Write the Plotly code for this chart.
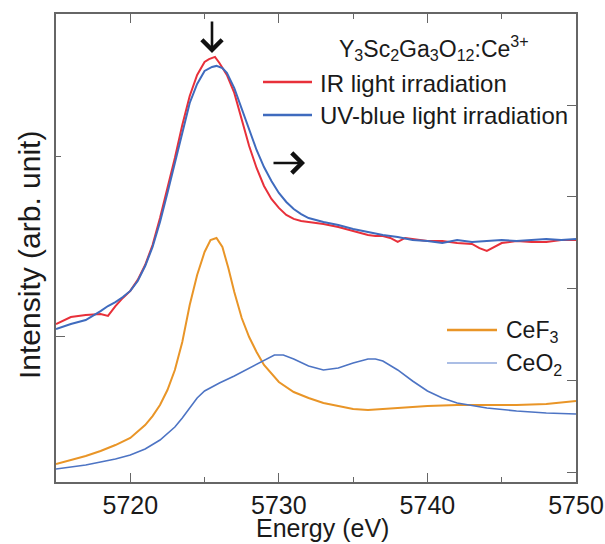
import plotly.graph_objects as go

# ---------------- data ----------------
# Top spectra: Y3Sc2Ga3O12:Ce3+ (left axis, arb. unit)
energy_ir = [5715, 5716, 5717, 5718, 5718.5, 5719, 5719.5, 5720, 5720.5, 5721, 5721.5, 5722,
             5722.5, 5723, 5723.5, 5724, 5724.5, 5725, 5725.3, 5725.7, 5726, 5726.5, 5727,
             5727.5, 5728, 5728.5, 5729, 5729.5, 5730, 5730.5, 5731, 5731.5, 5732, 5733,
             5734, 5735, 5736, 5736.5, 5737, 5737.5, 5738, 5738.5, 5739, 5740, 5741, 5742,
             5743, 5743.5, 5744, 5744.5, 5745, 5746, 5747, 5748, 5749, 5750]
ir_light = [1.072, 1.111, 1.122, 1.128, 1.117, 1.172, 1.217, 1.256, 1.317, 1.400, 1.511, 1.661,
            1.828, 1.994, 2.178, 2.339, 2.456, 2.528, 2.544, 2.556, 2.522, 2.456, 2.356,
            2.206, 2.061, 1.939, 1.839, 1.767, 1.717, 1.678, 1.656, 1.644, 1.639, 1.628,
            1.611, 1.589, 1.567, 1.561, 1.561, 1.550, 1.528, 1.550, 1.544, 1.533, 1.533, 1.522,
            1.517, 1.494, 1.478, 1.500, 1.522, 1.533, 1.528, 1.528, 1.539, 1.539]

energy_uv = [5715, 5716, 5717, 5717.5, 5718, 5718.5, 5719, 5719.5, 5720, 5720.5, 5721, 5721.5,
             5722, 5722.5, 5723, 5723.5, 5724, 5724.5, 5725, 5725.5, 5725.8, 5726.2, 5726.5,
             5727, 5727.5, 5728, 5728.5, 5729, 5729.5, 5730, 5730.5, 5731, 5731.5, 5732,
             5733, 5734, 5735, 5736, 5737, 5738, 5739, 5740, 5741, 5742, 5743, 5744, 5745,
             5746, 5747, 5748, 5749, 5750]
uv_blue_light = [1.044, 1.072, 1.094, 1.117, 1.144, 1.172, 1.194, 1.222, 1.256, 1.311, 1.394, 1.500,
                 1.639, 1.800, 1.972, 2.144, 2.300, 2.406, 2.478, 2.500, 2.506, 2.494, 2.467,
                 2.383, 2.272, 2.150, 2.039, 1.944, 1.867, 1.800, 1.750, 1.711, 1.683, 1.661,
                 1.639, 1.622, 1.600, 1.583, 1.567, 1.556, 1.539, 1.533, 1.522, 1.539, 1.528,
                 1.533, 1.539, 1.533, 1.539, 1.544, 1.539, 1.544]

# Reference compounds (right axis, arb. unit)
energy_cef3 = [5715, 5716, 5717, 5718, 5719, 5720, 5721, 5721.5, 5722, 5722.5, 5723, 5723.5,
               5724, 5724.5, 5725, 5725.4, 5725.8, 5726.2, 5726.6, 5727, 5727.5, 5728, 5728.5,
               5729, 5729.5, 5730, 5731, 5732, 5733, 5734, 5735, 5736, 5737, 5738, 5740,
               5742, 5744, 5746, 5748, 5750]
cef3 = [0.087, 0.131, 0.174, 0.229, 0.294, 0.371, 0.512, 0.610, 0.730, 0.894, 1.112, 1.417,
        1.820, 2.147, 2.398, 2.529, 2.550, 2.452, 2.223, 1.962, 1.678, 1.471, 1.308,
        1.166, 1.068, 0.981, 0.872, 0.807, 0.752, 0.719, 0.687, 0.676, 0.687, 0.698, 0.719,
        0.730, 0.730, 0.730, 0.741, 0.774]

energy_ceo2 = [5715, 5716, 5717, 5718, 5719, 5720, 5721, 5722, 5723, 5723.5, 5724, 5724.5,
               5725, 5726, 5727, 5728, 5729, 5729.7, 5730.3, 5731, 5732, 5733, 5734, 5735,
               5736, 5736.5, 5737, 5738, 5739, 5740, 5741, 5742, 5744, 5746, 5748, 5750]
ceo2 = [0.033, 0.054, 0.076, 0.109, 0.142, 0.185, 0.251, 0.349, 0.490, 0.589, 0.698, 0.807,
        0.883, 0.970, 1.046, 1.134, 1.221, 1.275, 1.275, 1.232, 1.155, 1.112, 1.134, 1.188,
        1.232, 1.232, 1.210, 1.112, 0.992, 0.883, 0.807, 0.752, 0.698, 0.665, 0.643, 0.632]

x_ticks = [5720, 5730, 5740, 5750]
x_minor_ticks = [5725, 5735, 5745]

# ---------------- styling ----------------
FONT = "Liberation Sans, Arial, Helvetica, sans-serif"
TXT = "#1a1a1a"
RED = "#E8303A"
BLUE = "#3F6BBE"
ORANGE = "#E99527"
BLUE2 = "#4D74C4"
AXIS = "#666666"

fig = go.Figure()
fig.add_trace(go.Scatter(x=energy_ir, y=ir_light, mode="lines", name="IR light irradiation",
                         line=dict(color=RED, width=2), yaxis="y"))
fig.add_trace(go.Scatter(x=energy_uv, y=uv_blue_light, mode="lines", name="UV-blue light irradiation",
                         line=dict(color=BLUE, width=2), yaxis="y"))
fig.add_trace(go.Scatter(x=energy_cef3, y=cef3, mode="lines", name="CeF<sub>3</sub>",
                         line=dict(color=ORANGE, width=2), yaxis="y2"))
fig.add_trace(go.Scatter(x=energy_ceo2, y=ceo2, mode="lines", name="CeO<sub>2</sub>",
                         line=dict(color=BLUE2, width=1.6), yaxis="y2"))

fig.update_layout(
    width=605, height=544,
    margin=dict(l=56, r=29, t=14, b=62, autoexpand=False),
    paper_bgcolor="white", plot_bgcolor="white",
    showlegend=False,
    font=dict(family=FONT, color=TXT),
    xaxis=dict(range=[5715, 5750], showgrid=False, zeroline=False, automargin=False,
               showline=True, linecolor=AXIS, linewidth=1.5, mirror="ticks",
               ticks="inside", ticklen=9, tickwidth=1.2, tickcolor=AXIS,
               tickvals=x_ticks, ticktext=[str(v) for v in x_ticks],
               tickfont=dict(size=25, family=FONT, color=TXT),
               minor=dict(tickvals=x_minor_ticks, ticks="inside", ticklen=5,
                          tickcolor=AXIS, tickwidth=1.2)),
    yaxis=dict(range=[0.1944, 2.7944], showgrid=False, zeroline=False, automargin=False,
               showline=True, linecolor=AXIS, linewidth=1.5,
               ticks="inside", ticklen=9, tickwidth=1.2, tickcolor=AXIS,
               tickvals=[1], showticklabels=False,
               minor=dict(tickvals=[2], ticks="inside", ticklen=5,
                          tickcolor=AXIS, tickwidth=1.2)),
    yaxis2=dict(range=[-0.109, 4.992], overlaying="y", side="right", automargin=False,
                showgrid=False, zeroline=False,
                showline=True, linecolor=AXIS, linewidth=1.5,
                ticks="inside", ticklen=9, tickwidth=1.2, tickcolor=AXIS,
                tickvals=[0, 1, 2, 3, 4], showticklabels=False),
)

def px_x(px):
    return (px - 56) / 520.0

def px_y(py):
    return (482 - py) / 468.0

ann = []
# axis titles
ann.append(dict(text="Energy (eV)", xref="paper", yref="paper", x=px_x(322), y=px_y(528),
                showarrow=False, font=dict(size=25, family=FONT, color=TXT),
                xanchor="center", yanchor="middle"))
ann.append(dict(text="Intensity (arb. unit)", xref="paper", yref="paper", x=px_x(30), y=px_y(255),
                showarrow=False, textangle=-90, font=dict(size=30, family=FONT, color=TXT),
                xanchor="center", yanchor="middle"))
# legend block 1
ann.append(dict(text="Y<sub>3</sub>Sc<sub>2</sub>Ga<sub>3</sub>O<sub>12</sub>:Ce<sup>3+</sup>",
                xref="paper", yref="paper", x=px_x(434), y=px_y(48), showarrow=False,
                font=dict(size=23, family=FONT, color=TXT), xanchor="center", yanchor="middle"))
ann.append(dict(text="IR light irradiation", xref="paper", yref="paper", x=px_x(318), y=px_y(83),
                showarrow=False, font=dict(size=24, family=FONT, color=TXT),
                xanchor="left", yanchor="middle"))
ann.append(dict(text="UV-blue light irradiation", xref="paper", yref="paper", x=px_x(318), y=px_y(115),
                showarrow=False, font=dict(size=24, family=FONT, color=TXT),
                xanchor="left", yanchor="middle"))
# legend block 2
ann.append(dict(text="CeF<sub>3</sub>", xref="paper", yref="paper", x=px_x(504), y=px_y(331),
                showarrow=False, font=dict(size=23, family=FONT, color=TXT),
                xanchor="left", yanchor="middle"))
ann.append(dict(text="CeO<sub>2</sub>", xref="paper", yref="paper", x=px_x(504), y=px_y(364),
                showarrow=False, font=dict(size=23, family=FONT, color=TXT),
                xanchor="left", yanchor="middle"))
# arrows
ann.append(dict(text="", xref="paper", yref="paper", x=px_x(212), y=px_y(53),
                ax=0, ay=-33, showarrow=True, arrowhead=4, arrowsize=1.5, arrowwidth=2.6,
                arrowcolor="#111111"))
ann.append(dict(text="", xref="paper", yref="paper", x=px_x(305), y=px_y(163),
                ax=-33, ay=0, showarrow=True, arrowhead=4, arrowsize=1.5, arrowwidth=2.6,
                arrowcolor="#111111"))
fig.update_layout(annotations=ann)

shapes = [
    dict(type="line", xref="paper", yref="paper", x0=px_x(263), x1=px_x(312), y0=px_y(82), y1=px_y(82),
         line=dict(color=RED, width=2.5)),
    dict(type="line", xref="paper", yref="paper", x0=px_x(263), x1=px_x(312), y0=px_y(115), y1=px_y(115),
         line=dict(color=BLUE, width=2.5)),
    dict(type="line", xref="paper", yref="paper", x0=px_x(447), x1=px_x(497), y0=px_y(330), y1=px_y(330),
         line=dict(color=ORANGE, width=2.5)),
    dict(type="line", xref="paper", yref="paper", x0=px_x(447), x1=px_x(497), y0=px_y(363), y1=px_y(363),
         line=dict(color="#8FA8DC", width=1.5)),
]
fig.update_layout(shapes=shapes)

fig.write_html(
    "out.html",
    config={"displayModeBar": False},
    post_script="document.body.style.margin='0';document.body.style.padding='0';"
                "document.body.style.overflow='hidden';",
)
